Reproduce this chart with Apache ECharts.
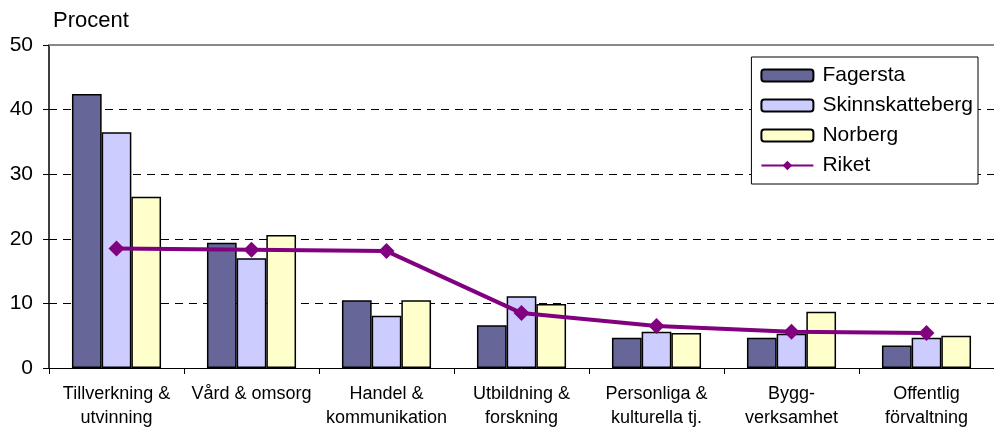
<!DOCTYPE html>
<html>
<head>
<meta charset="utf-8">
<script src="https://cdn.jsdelivr.net/npm/echarts@6/dist/echarts.min.js"></script>
<style>
  html, body { margin: 0; padding: 0; background: #fff; }
  #chart { width: 994px; height: 430px; }
</style>
</head>
<body>
<div id="chart"></div>
<script>
const categories = [
  'Tillverkning &\nutvinning',
  'Vård & omsorg',
  'Handel &\nkommunikation',
  'Utbildning &\nforskning',
  'Personliga &\nkulturella tj.',
  'Bygg-\nverksamhet',
  'Offentlig\nförvaltning'
];
const fagersta = [42.4, 19.4, 10.5, 6.6, 4.7, 4.7, 3.5];
const skinnskatteberg = [36.5, 17.0, 8.1, 11.1, 5.6, 5.3, 4.7];
const norberg = [26.5, 20.6, 10.5, 9.9, 5.4, 8.7, 5.0];
const riket = [18.5, 18.3, 18.1, 8.5, 6.5, 5.6, 5.4];
const yTicks = [0, 10, 20, 30, 40, 50];

const font = 'Liberation Sans, Arial, sans-serif';
const chart = echarts.init(document.getElementById('chart'));

const barStyle = (color) => ({
  color: color,
  borderColor: '#000',
  borderWidth: 1.5
});

const option = {
  animation: false,
  textStyle: { fontFamily: font },
  grid: { left: 49, right: -9, top: 45, bottom: 58 },
  legend: {
    orient: 'vertical',
    right: 16,
    top: 57,
    backgroundColor: '#fff',
    borderColor: '#000',
    borderWidth: 1,
    padding: [8, 5, 8, 9],
    itemWidth: 52,
    itemHeight: 12,
    itemGap: 9,
    textStyle: { fontFamily: font, fontSize: 21, color: '#000', padding: [0, 0, 0, 4] },
    data: ['Fagersta', 'Skinnskatteberg', 'Norberg', 'Riket']
  },
  xAxis: [
    {
      type: 'category',
      data: categories,
      axisLine: { lineStyle: { color: '#000', width: 1 } },
      axisTick: { show: true, length: 6, lineStyle: { color: '#000' } },
      axisLabel: {
        color: '#000',
        fontSize: 18,
        lineHeight: 24,
        margin: 14,
        interval: 0
      }
    },
    {
      type: 'category',
      position: 'top',
      data: categories,
      axisLine: { lineStyle: { color: '#888', width: 2 } },
      axisTick: { show: false },
      axisLabel: { show: false }
    }
  ],
  yAxis: {
    type: 'value',
    min: yTicks[0],
    max: yTicks[yTicks.length - 1],
    interval: 10,
    name: 'Procent',
    nameLocation: 'end',
    nameGap: 13,
    nameTextStyle: { color: '#000', fontSize: 22, align: 'left', padding: [0, 0, 0, 4] },
    axisLine: { show: true, lineStyle: { color: '#000', width: 1.5 } },
    axisTick: { show: true, length: 6, lineStyle: { color: '#000' } },
    axisLabel: { color: '#000', fontSize: 21, margin: 16 },
    splitLine: { show: true, lineStyle: { color: '#000', type: [8, 6], width: 1 } }
  },
  series: [
    {
      name: 'Fagersta', type: 'bar', data: fagersta,
      barGap: '0%', barCategoryGap: '34%',
      itemStyle: barStyle('#666699')
    },
    {
      name: 'Skinnskatteberg', type: 'bar', data: skinnskatteberg,
      barGap: '0%', barCategoryGap: '34%',
      itemStyle: barStyle('#CCCCFF')
    },
    {
      name: 'Norberg', type: 'bar', data: norberg,
      barGap: '0%', barCategoryGap: '34%',
      itemStyle: barStyle('#FFFFCC')
    },
    {
      name: 'Riket', type: 'line', data: riket,
      symbol: 'diamond', symbolSize: 16,
      lineStyle: { color: '#800080', width: 4 },
      itemStyle: { color: '#800080' },
      z: 5
    }
  ]
};

chart.setOption(option);
</script>
</body>
</html>
